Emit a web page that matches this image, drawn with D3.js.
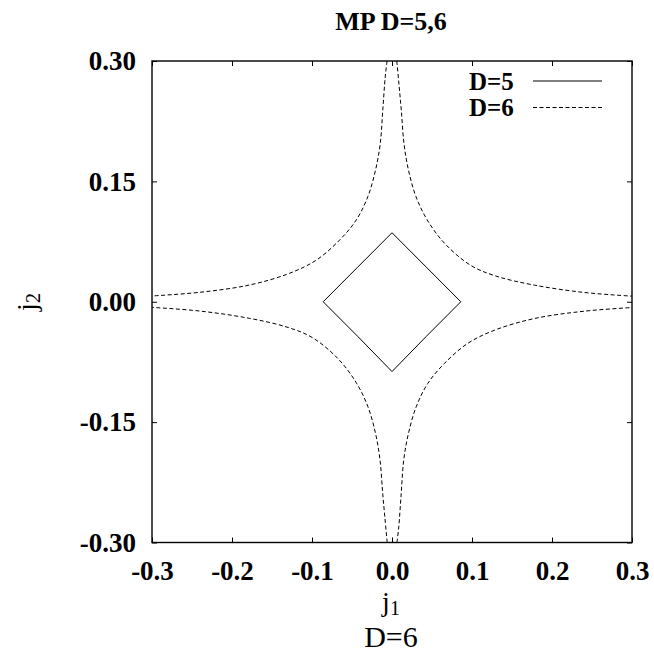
<!DOCTYPE html>
<html>
<head>
<meta charset="utf-8">
<script src="https://cdn.jsdelivr.net/npm/d3@7"></script>
<style>
  body { margin: 0; background: #fff; }
  svg { display: block; }
  .tick text { font-family: "Liberation Serif", "DejaVu Serif", serif; font-weight: bold; font-size: 27px; fill: #000; }
  .tick line { stroke: #000; stroke-width: 1; }
</style>
</head>
<body>
<svg id="chart" width="654" height="653"></svg>
<script>
'use strict';

// tick values
let xTicks = [-0.3, -0.2, -0.1, 0.0, 0.1, 0.2, 0.3];
let yTicks = [-0.30, -0.15, 0.00, 0.15, 0.30];

// D=5 : closed diamond
let d5 = [
    [-0.086, 0.000], [-0.043, 0.043], [0.000, 0.086], [0.043, 0.043],
    [0.086, 0.000], [0.043, -0.043], [0.000, -0.087], [-0.043, -0.043],
    [-0.086, 0.000]
];

// D=6 : four separate branches
let d6UpperRight = [
    [0.0060, 0.3000], [0.0088, 0.2700], [0.0116, 0.2390], [0.0150, 0.1970],
    [0.0206, 0.1640], [0.0300, 0.1310], [0.0440, 0.1020],
    [0.0665, 0.0720], [0.0990, 0.0450], [0.1300, 0.0320],
    [0.1780, 0.0207], [0.2400, 0.0116], [0.3000, 0.0070]
];
let d6UpperLeft = [
    [-0.0062, 0.3000], [-0.0085, 0.2800], [-0.0115, 0.2390], [-0.0147, 0.1970],
    [-0.0206, 0.1640], [-0.0302, 0.1310], [-0.0446, 0.1020],
    [-0.0654, 0.0770], [-0.0945, 0.0520], [-0.1280, 0.0355], [-0.1780, 0.0209],
    [-0.2400, 0.0118], [-0.3000, 0.0072]
];
let d6LowerLeft = [
    [-0.0060, -0.3000], [-0.0088, -0.2700], [-0.0116, -0.2390], [-0.0150, -0.1970],
    [-0.0206, -0.1640], [-0.0300, -0.1310], [-0.0440, -0.1020],
    [-0.0665, -0.0720], [-0.0990, -0.0450], [-0.1300, -0.0320],
    [-0.1780, -0.0207], [-0.2400, -0.0116], [-0.3000, -0.0070]
];
let d6LowerRight = [
    [0.0062, -0.3000], [0.0085, -0.2800], [0.0115, -0.2390], [0.0147, -0.1970],
    [0.0206, -0.1640], [0.0302, -0.1310], [0.0446, -0.1020],
    [0.0654, -0.0770], [0.0945, -0.0520], [0.1280, -0.0355], [0.1780, -0.0209],
    [0.2400, -0.0118], [0.3000, -0.0072]
];

let series = [
    {name: "D=5", dash: null, lines: [d5]},
    {name: "D=6", dash: "4,2.5", lines: [d6UpperRight, d6UpperLeft, d6LowerLeft, d6LowerRight]}
];

let svg = d3.select("#chart"),
    margin = {top: 61, bottom: 110.5, left: 152, right: 22};
let width = +svg.attr("width"),
    height = +svg.attr("height");

let x = d3.scaleLinear()
    .domain([-0.3, 0.3])
    .range([margin.left, width - margin.right]);
let y = d3.scaleLinear()
    .domain([-0.3, 0.3])
    .range([height - margin.bottom, margin.top]);

let serif = '"Liberation Serif", "DejaVu Serif", serif';

// title
svg.append("text")
    .attr("x", 391)
    .attr("y", 30)
    .attr("text-anchor", "middle")
    .style("font-family", serif)
    .style("font-weight", "bold")
    .style("font-size", "26px")
    .text("MP D=5,6");

// axes, gnuplot style ticks pointing inward
svg.append("g")
    .attr("class", "x-axis")
    .attr("transform", "translate(0," + y(-0.3) + ")")
    .call(d3.axisBottom(x).tickValues(xTicks).tickSizeInner(-5).tickSizeOuter(0)
        .tickPadding(18).tickFormat(d => d.toFixed(1)));
svg.append("g")
    .attr("transform", "translate(0," + y(0.3) + ")")
    .call(d3.axisTop(x).tickValues(xTicks).tickSizeInner(-5).tickSizeOuter(0).tickFormat(""));
svg.append("g")
    .attr("class", "y-axis")
    .attr("transform", "translate(" + x(-0.3) + ",0)")
    .call(d3.axisLeft(y).tickValues(yTicks).tickSizeInner(-5).tickSizeOuter(0)
        .tickPadding(16).tickFormat(d => d.toFixed(2)));
svg.append("g")
    .attr("transform", "translate(" + x(0.3) + ",0)")
    .call(d3.axisRight(y).tickValues(yTicks).tickSizeInner(-5).tickSizeOuter(0).tickFormat(""));

svg.selectAll(".domain").remove();
svg.selectAll(".y-axis .tick text").attr("dy", "0.32em");

// frame
svg.append("rect")
    .attr("x", x(-0.3))
    .attr("y", y(0.3))
    .attr("width", x(0.3) - x(-0.3))
    .attr("height", y(-0.3) - y(0.3))
    .attr("fill", "none")
    .attr("stroke", "#000")
    .attr("stroke-width", 1.4);

// curves
let line = d3.line()
    .curve(d3.curveCatmullRom.alpha(0.5))
    .x(d => x(d[0]))
    .y(d => y(d[1]));
let diamondLine = d3.line()
    .x(d => x(d[0]))
    .y(d => y(d[1]));

let plot = svg.append("g");
series.forEach(s => {
    plot.selectAll(null)
        .data(s.lines)
        .enter()
        .append("path")
        .attr("d", s.dash ? line : diamondLine)
        .attr("fill", "none")
        .attr("stroke", "#000")
        .attr("stroke-width", 1)
        .attr("stroke-dasharray", s.dash);
});

// legend
let legend = svg.append("g");
series.forEach((s, i) => {
    let yy = 81 + i * 26.5;
    legend.append("text")
        .attr("x", 469)
        .attr("y", yy + 8.5)
        .style("font-family", serif)
        .style("font-weight", "bold")
        .style("font-size", "25px")
        .text(s.name);
    legend.append("line")
        .attr("x1", 533)
        .attr("x2", 602)
        .attr("y1", yy)
        .attr("y2", yy)
        .attr("stroke", "#000")
        .attr("stroke-width", 1)
        .attr("stroke-dasharray", s.dash);
});

// axis labels
let xl = svg.append("text")
    .attr("x", 391)
    .attr("y", 611)
    .attr("text-anchor", "middle")
    .style("font-family", serif)
    .style("font-size", "28px");
xl.append("tspan").text("j");
xl.append("tspan").attr("dy", 4).style("font-size", "20px").text("1");

let yl = svg.append("text")
    .attr("transform", "translate(36,302) rotate(-90)")
    .attr("text-anchor", "middle")
    .style("font-family", serif)
    .style("font-size", "28px");
yl.append("tspan").text("j");
yl.append("tspan").attr("dy", 4).style("font-size", "20px").text("2");

svg.append("text")
    .attr("x", 391)
    .attr("y", 647)
    .attr("text-anchor", "middle")
    .style("font-family", serif)
    .style("font-size", "30px")
    .text("D=6");
</script>
</body>
</html>
